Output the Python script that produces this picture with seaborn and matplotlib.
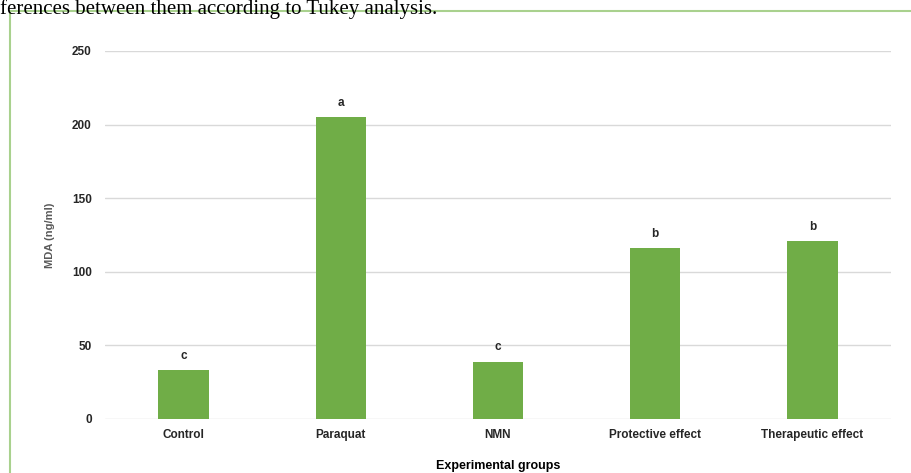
import matplotlib
matplotlib.use("Agg")
import matplotlib.pyplot as plt
import seaborn as sns
import pandas as pd
from matplotlib.patches import Rectangle

groups = ["Control", "Paraquat", "NMN", "Protective effect", "Therapeutic effect"]
mda = [33, 205, 39, 116, 121]
letters = ["c", "a", "c", "b", "b"]
y_ticks = [0, 50, 100, 150, 200, 250]

df = pd.DataFrame({"group": groups, "mda": mda})

sns.set_theme(style="white")
plt.rcParams["font.family"] = ["Liberation Sans", "DejaVu Sans"]

fig = plt.figure(figsize=(9.12, 4.73), dpi=100)
ax = fig.add_axes([0.1151, 0.1142, 0.8619, 0.7780])

sns.barplot(data=df, x="group", y="mda", color="#70ad47", saturation=1,
            width=0.32, ax=ax, edgecolor="none")

ax.set_ylim(0, 250)
ax.set_xlim(-0.5, len(groups) - 0.5)
ax.set_yticks(y_ticks)
ax.yaxis.grid(True, color="#d9d9d9", linewidth=1)
ax.set_axisbelow(True)
for s in ax.spines.values():
    s.set_visible(False)
ax.tick_params(axis="both", length=0, labelsize=8.5, colors="#262626")
ax.tick_params(axis="y", pad=9.5)
ax.tick_params(axis="x", pad=7)
for lab in ax.get_xticklabels() + ax.get_yticklabels():
    lab.set_fontweight("bold")

ax.set_ylabel("MDA (ng/ml)", fontsize=8, fontweight="bold", color="#595959", labelpad=12)
ax.set_xlabel("Experimental groups", fontsize=9, fontweight="bold", color="#000000", labelpad=14)

for i, (v, t) in enumerate(zip(mda, letters)):
    ax.annotate(t, (i, v), xytext=(0, 6), textcoords="offset points",
                ha="center", va="bottom", fontsize=8.5, fontweight="bold", color="#262626")

# frame around the chart area
fig.patches.append(Rectangle((10 / 912, -0.1), 1.0, (473 - 11) / 473 + 0.1,
                             transform=fig.transFigure, fill=False,
                             edgecolor="#a9d18e", linewidth=1.5))

fig.text(0.0, 1 - 14 / 473, "ferences between them according to Tukey analysis.",
         fontsize=15, family="Liberation Serif", color="#000000",
         ha="left", va="baseline")

fig.savefig("out.png", dpi=100)
